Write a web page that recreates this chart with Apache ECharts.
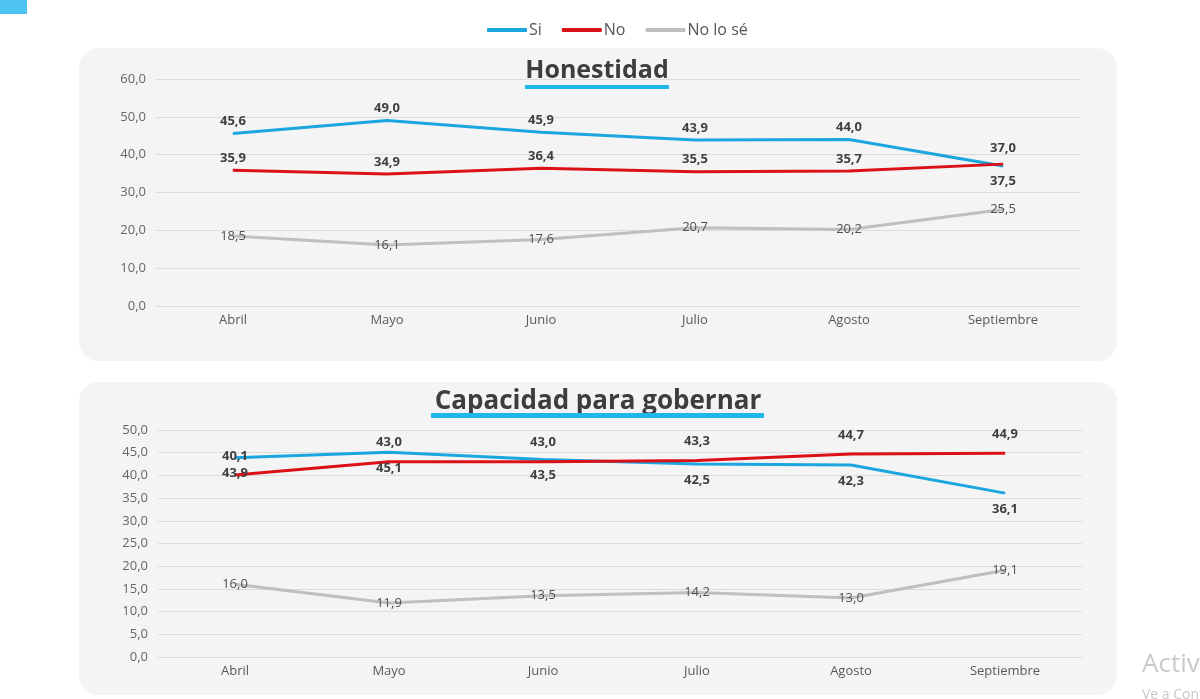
<!DOCTYPE html>
<html>
<head>
<meta charset="utf-8">
<script src="https://cdn.jsdelivr.net/npm/echarts@6/dist/echarts.min.js"></script>
<style>
html,body{margin:0;padding:0;background:#fff;}
#c{width:1200px;height:699px;}
</style>
</head>
<body>
<div id="c"></div>
<script>
const categories = ['Abril', 'Mayo', 'Junio', 'Julio', 'Agosto', 'Septiembre'];
const seriesNames = ['Si', 'No', 'No lo sé'];
// Honestidad
const honSi = [45.6, 49.0, 45.9, 43.9, 44.0, 37.0];
const honNo = [35.9, 34.9, 36.4, 35.5, 35.7, 37.5];
const honNs = [18.5, 16.1, 17.6, 20.7, 20.2, 25.5];
// Capacidad para gobernar
const capSi = [43.9, 45.1, 43.5, 42.5, 42.3, 36.1];
const capNo = [40.1, 43.0, 43.0, 43.3, 44.7, 44.9];
const capNs = [16.0, 11.9, 13.5, 14.2, 13.0, 19.1];
const honTicks = {min: 0, max: 60, interval: 10};
const capTicks = {min: 0, max: 50, interval: 5};

const FONT = '"Open Sans", sans-serif';
const BLUE = '#1ba6e0', RED = '#dc1118', GRAY = '#bfbfbf';
const fmt = v => v.toFixed(1).replace('.', ',');

function boldLabel(pos, dist) {
  return {show: true, position: pos, distance: dist, fontFamily: FONT, fontSize: 13,
    fontWeight: 'bold', color: '#3f3f3f', formatter: p => fmt(p.value)};
}
function grayLabel() {
  return {show: true, position: 'inside', fontFamily: FONT, fontSize: 13,
    color: '#505050', formatter: p => fmt(p.value)};
}
function mkSeries(name, data, color, gi, label, overrides) {
  return {
    name: name, type: 'line', xAxisIndex: gi, yAxisIndex: gi,
    data: data.map((v, i) => (overrides && overrides[i]) ? {value: v, label: overrides[i]} : v),
    symbol: 'circle', symbolSize: 1, showSymbol: true,
    lineStyle: {color: color, width: 3}, itemStyle: {color: color},
    label: label, z: name === 'No lo sé' ? 2 : 3, emphasis: {disabled: true}
  };
}

const chart = echarts.init(document.getElementById('c'));
const yAxisCommon = {
  type: 'value',
  axisLine: {show: false}, axisTick: {show: false},
  splitLine: {lineStyle: {color: '#dcdcdc', width: 1}},
  axisLabel: {fontFamily: FONT, fontSize: 13, color: '#666', margin: 10, formatter: v => fmt(v)}
};
const xAxisCommon = {
  type: 'category', data: categories, boundaryGap: true,
  axisLine: {show: false}, axisTick: {show: false},
  axisLabel: {fontFamily: FONT, fontSize: 13, color: '#595959', margin: 8}
};

chart.setOption({
  animation: false,
  backgroundColor: '#ffffff',
  legend: {
    top: 17, left: 482, itemWidth: 40, itemHeight: 4, itemGap: 20, icon: 'roundRect',
    data: seriesNames,
    textStyle: {fontFamily: FONT, fontSize: 16, color: '#555', padding: [0, 0, 0, -3]}
  },
  graphic: [
    {type: 'rect', shape: {x: 0, y: 0, width: 27, height: 14}, style: {fill: '#4fc4f2'}, z: -10},
    {type: 'rect', shape: {x: 79, y: 48, width: 1038, height: 313, r: 20}, style: {fill: '#f4f4f4'}, z: -10},
    {type: 'rect', shape: {x: 79, y: 382, width: 1038, height: 313, r: 20}, style: {fill: '#f4f4f4'}, z: -10},
    {type: 'text', x: 597, y: 71, style: {text: 'Honestidad', fontFamily: FONT, fontSize: 25, fontWeight: 'bold', fill: '#3d3d3d', align: 'center', verticalAlign: 'middle'}},
    {type: 'rect', shape: {x: 525, y: 85, width: 144, height: 4}, style: {fill: '#1fb6ec'}},
    {type: 'text', x: 598, y: 402, style: {text: 'Capacidad para gobernar', fontFamily: FONT, fontSize: 26, fontWeight: 'bold', fill: '#3d3d3d', align: 'center', verticalAlign: 'middle'}},
    {type: 'rect', shape: {x: 431, y: 413, width: 333, height: 5}, style: {fill: '#1fb6ec'}},
    {type: 'text', x: 1142, y: 652, style: {text: 'Activar Windows', fontFamily: FONT, fontSize: 26, fill: '#c9c9c9'}},
    {type: 'text', x: 1142, y: 688, style: {text: 'Ve a Configuración', fontFamily: FONT, fontSize: 14, fill: '#c9c9c9'}}
  ],
  grid: [
    {left: 156, width: 924, top: 79, height: 227, containLabel: false},
    {left: 158, width: 924, top: 430, height: 227, containLabel: false}
  ],
  xAxis: [
    Object.assign({gridIndex: 0}, xAxisCommon),
    Object.assign({gridIndex: 1}, xAxisCommon)
  ],
  yAxis: [
    Object.assign({gridIndex: 0}, yAxisCommon, honTicks),
    Object.assign({gridIndex: 1}, yAxisCommon, capTicks)
  ],
  series: [
    mkSeries('Si', honSi, BLUE, 0, boldLabel('top', 5), {5: {position: 'top', distance: 11}}),
    mkSeries('No', honNo, RED, 0, boldLabel('top', 5), {5: {position: 'bottom', distance: 10}}),
    mkSeries('No lo sé', honNs, GRAY, 0, grayLabel()),
    mkSeries('Si', capSi, BLUE, 1, boldLabel('bottom', 9)),
    mkSeries('No', capNo, RED, 1, boldLabel('top', 12)),
    mkSeries('No lo sé', capNs, GRAY, 1, grayLabel())
  ]
});
</script>
</body>
</html>
